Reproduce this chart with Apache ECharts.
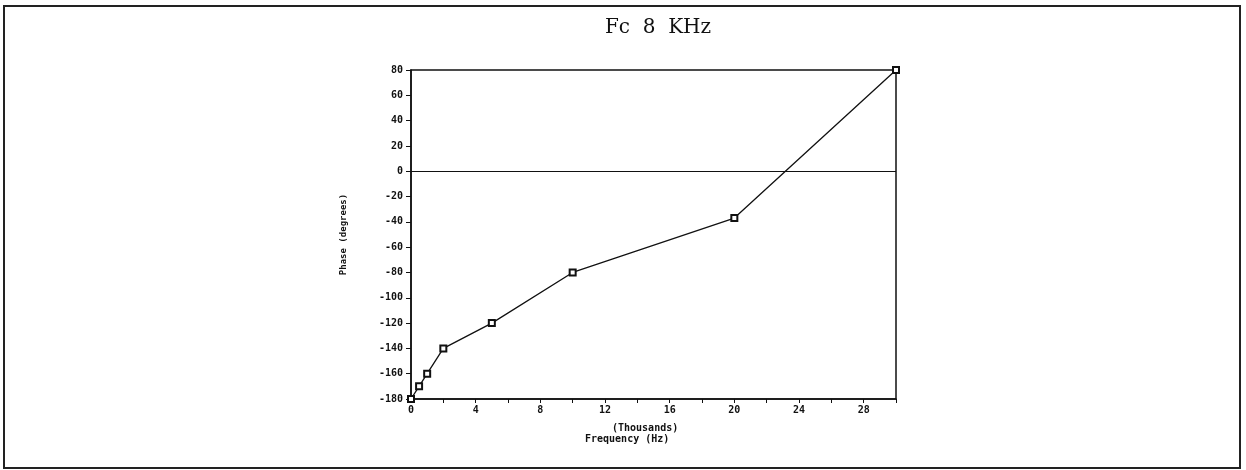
<!DOCTYPE html>
<html>
<head>
<meta charset="utf-8">
<script src="https://cdn.jsdelivr.net/npm/echarts@6/dist/echarts.min.js"></script>
<style>
  html, body { margin: 0; padding: 0; background: #fff; }
  #main { width: 1246px; height: 470px; }
</style>
</head>
<body>
<div id="main"></div>
<script>
// frequency in thousands of Hz, phase in degrees
const freq = [0, 0.5, 1, 2, 5, 10, 20, 30]
const phase = [-180, -170, -160, -140, -120, -80, -37, 80]
const xLabelEvery = 4

let chart = echarts.init(document.getElementById('main'))

function getOption() {
  return {
    animation: false,
    backgroundColor: '#fff',
    title: {
      text: 'Fc  8  KHz',
      left: 653,
      textAlign: 'center',
      top: 13,
      textStyle: {
        fontFamily: 'DejaVu Serif',
        fontWeight: 'normal',
        fontSize: 20,
        color: '#111'
      }
    },
    graphic: [
      {
        type: 'rect',
        shape: { x: 4, y: 6, width: 1236, height: 462 },
        style: { fill: 'none', stroke: '#222', lineWidth: 2 }
      },
      {
        type: 'text',
        left: 612,
        top: 423,
        style: { text: '(Thousands)', font: 'bold 10px "DejaVu Sans Mono"', fill: '#111' }
      },
      {
        type: 'text',
        left: 585,
        top: 434,
        style: { text: 'Frequency (Hz)', font: 'bold 10px "DejaVu Sans Mono"', fill: '#111' }
      }
    ],
    grid: {
      left: 411,
      right: 350,
      top: 70,
      bottom: 71,
      show: true,
      borderColor: '#111',
      borderWidth: 1.5
    },
    xAxis: {
      type: 'value',
      min: 0,
      max: 30,
      interval: 2,
      axisLine: { onZero: false, lineStyle: { color: '#111', width: 1.5 } },
      axisTick: { show: true, length: 4, lineStyle: { color: '#111' } },
      splitLine: { show: false },
      axisLabel: {
        color: '#111',
        fontFamily: 'DejaVu Sans Mono',
        fontWeight: 'bold',
        fontSize: 10,
        margin: 6,
        formatter: v => (v % xLabelEvery === 0 && v < 30) ? String(v) : ''
      }
    },
    yAxis: {
      type: 'value',
      min: -180,
      max: 80,
      interval: 20,
      name: 'Phase (degrees)',
      nameLocation: 'middle',
      nameRotate: 90,
      nameGap: 63,
      nameTextStyle: {
        color: '#111',
        fontFamily: 'DejaVu Sans Mono',
        fontWeight: 'bold',
        fontSize: 9
      },
      axisLine: { show: true, onZero: false, lineStyle: { color: '#111', width: 1.5 } },
      axisTick: { show: true, length: 5, lineStyle: { color: '#111' } },
      splitLine: { show: false },
      axisLabel: {
        color: '#111',
        fontFamily: 'DejaVu Sans Mono',
        fontWeight: 'bold',
        fontSize: 10,
        margin: 8
      }
    },
    series: [
      {
        type: 'line',
        data: freq.map((f, i) => [f, phase[i]]),
        symbol: 'emptyRect',
        symbolSize: 6,
        itemStyle: { color: '#111', borderWidth: 1.2 },
        lineStyle: { color: '#111', width: 1.3 },
        markLine: {
          silent: true,
          symbol: 'none',
          label: { show: false },
          lineStyle: { color: '#111', type: 'solid', width: 1.2 },
          data: [{ yAxis: 0 }]
        }
      }
    ]
  }
}

chart.setOption(getOption())
</script>
</body>
</html>
